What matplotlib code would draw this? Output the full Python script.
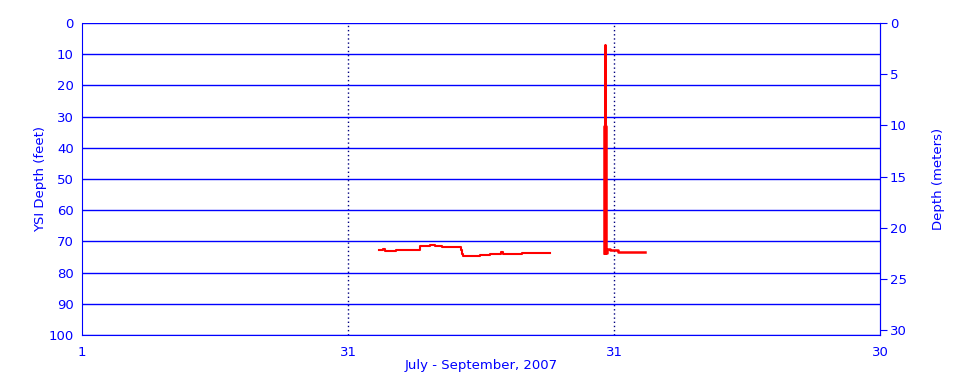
import matplotlib
matplotlib.use("Agg")
import matplotlib.pyplot as plt

# x in days since Jul 1 (month boundaries drawn as equal thirds: 0, 30, 60, 90)
# first deployment (early/mid August)
days_a = [33.5, 33.95, 34.2, 34.74, 35.41, 36.09, 37.0, 37.56, 37.89, 38.12,
          39.25, 39.81, 40.15, 40.6, 41.5, 42.63, 42.74, 42.86, 42.97, 43.2,
          43.76, 44.89, 46.02, 47.14, 47.26, 47.48, 48.27, 49.4, 49.6, 50.53,
          51.65, 52.78]
ft_a = [72.8, 72.4, 73.1, 73.1, 72.7, 72.9, 72.6, 72.6, 72.7, 71.6,
        71.3, 71.6, 71.4, 71.8, 71.8, 71.8, 72.8, 74.0, 74.7, 74.7,
        74.7, 74.4, 74.1, 74.1, 73.3, 73.9, 74.0, 74.0, 73.6, 73.8,
        73.6, 73.7]
# second deployment (spike at end of August)
days_b = [58.87, 58.9, 58.93, 58.96, 58.99, 59.02, 59.05, 59.1, 59.21, 59.44,
          59.5, 60.34, 60.4, 61.8, 63.3, 63.5]
ft_b = [73.7, 33.0, 73.5, 7.0, 73.8, 33.0, 73.6, 73.7, 72.3, 72.3,
        72.9, 72.9, 73.5, 73.5, 73.5, 73.3]

xticks = [0, 30, 60, 90]
xtick_labels = ["1", "31", "31", "30"]
ft_ticks = list(range(0, 101, 10))
m_ticks = [0, 5, 10, 15, 20, 25, 30]

BLUE = "#0000ff"

fig = plt.figure(figsize=(9.6, 3.84), dpi=100)
ax = fig.add_axes([82 / 960, 49 / 384, 798 / 960, 312 / 384])

ax.plot(days_a, ft_a, color="red", lw=1.5, drawstyle="steps-post", zorder=3)
ax.plot(days_b, ft_b, color="red", lw=1.8, drawstyle="steps-post", zorder=3)

ax.set_xlim(0, 90)
ax.set_ylim(100, 0)
ax.set_xticks(xticks)
ax.set_xticklabels(xtick_labels)
ax.set_yticks(ft_ticks)
ax.grid(axis="y", color=BLUE, lw=1.0)
for x in xticks[1:3]:
    ax.axvline(x, color="#000080", lw=1.0, ls=(0, (1, 2)), zorder=1)

ax.tick_params(axis="both", colors=BLUE, labelsize=9.5, length=0, pad=6)
ax.tick_params(axis="x", pad=8)
for side in ["left", "bottom", "right"]:
    ax.spines[side].set_color(BLUE)
ax.spines["top"].set_visible(False)
ax.set_xlabel("July - September, 2007", color=BLUE, fontsize=9.5, labelpad=0)
ax.set_ylabel("YSI Depth (feet)", color=BLUE, fontsize=9.5, labelpad=1)

ax2 = ax.twinx()
ax2.set_ylim(100 * 0.3048, 0)
ax2.set_yticks(m_ticks)
ax2.tick_params(axis="y", colors=BLUE, labelsize=9.5, length=5, direction="out", pad=2)
for side in ["left", "bottom", "right", "top"]:
    ax2.spines[side].set_visible(False)
ax2.spines["right"].set_visible(True)
ax2.spines["right"].set_color(BLUE)
ax2.set_ylabel("Depth (meters)", color=BLUE, fontsize=9.5, labelpad=18)

fig.savefig("out.png", dpi=100)
